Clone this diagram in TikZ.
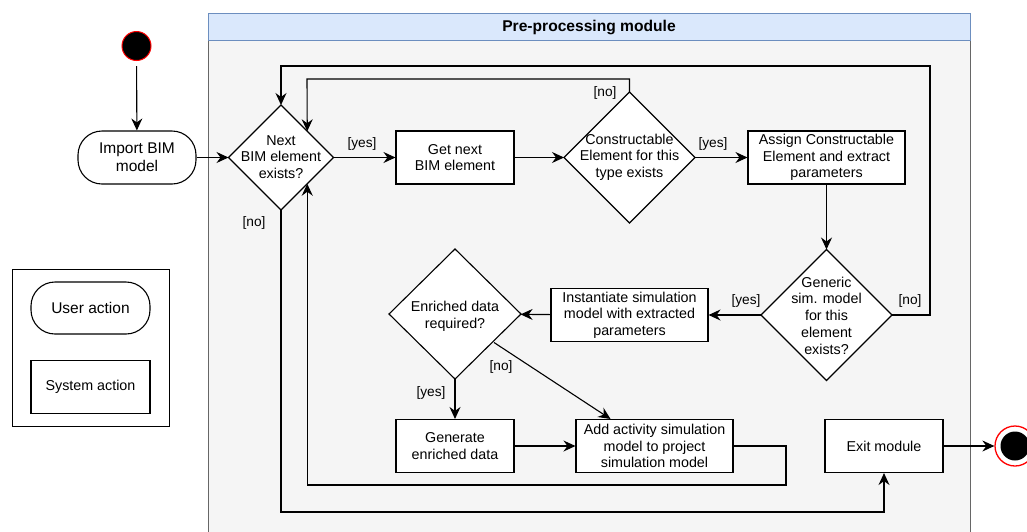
\documentclass[tikz,border=0pt]{standalone}
\usepackage{fontspec}
\setmainfont{Liberation Sans}
\usetikzlibrary{shapes.geometric,arrows.meta,calc}
\definecolor{poolfill}{HTML}{F5F5F5}
\definecolor{pooldraw}{HTML}{666666}
\definecolor{headfill}{HTML}{DAE8FC}
\definecolor{headdraw}{HTML}{6C8EBF}
\definecolor{startred}{HTML}{FF0000}
\begin{document}
\begin{tikzpicture}[x=1pt,y=-1pt,line width=1.1pt,
  >={Stealth[length=12pt,width=11pt,inset=4pt]},
  act/.style={draw,fill=white,minimum width=118pt,minimum height=53pt,inner sep=2pt,align=center,font=\fontsize{14.3}{16.7}\selectfont},
  bigact/.style={act,minimum width=157pt},
  useract/.style={act,rounded corners=24pt,font=\fontsize{15.5}{18}\selectfont},
  dec/.style={draw,fill=white,diamond,inner sep=0pt,outer sep=0pt},
  dectext/.style={align=center,inner sep=0pt,font=\fontsize{14.3}{16.7}\selectfont},
  lbl/.style={font=\fontsize{13.7}{16}\selectfont,inner sep=0pt},
  flow/.style={->}]
\useasboundingbox (0,0) rectangle (1027,531);
% pool
\fill[poolfill] (208,40) rectangle (970,545);
\draw[pooldraw,line width=1pt] (208,545) -- (208,40) -- (970,40) -- (970,545);
\draw[headdraw,fill=headfill,line width=1pt] (208,13) rectangle (970,40);
\node[font=\fontsize{15.6}{18}\selectfont\bfseries] (title) at (589,27) {Pre-processing module};
% legend
\draw[line width=1pt] (12,269) rectangle (169,426);
\node[useract,minimum width=119pt,minimum height=52pt] (leguser) at (90.5,308) {User action};
\node[act,minimum width=119pt,minimum height=53pt] (legsys) at (90.5,387) {System action};
% start / end
\node[circle,fill=black,draw=startred,line width=1pt,minimum size=29pt,inner sep=0pt] (start) at (136.5,46) {};
\node[circle,fill=white,draw=startred,line width=1.3pt,minimum size=40pt,inner sep=0pt] (end) at (1015,446) {};
\fill[black] (end.center) circle (14.5pt);
% nodes
\node[useract] (import) at (137,157.5) {Import BIM\\model};
\node[dec,minimum width=105pt,minimum height=105pt] (d1) at (281,157.5) {};
\node[dectext] (d1t) at (281,157) {Next\\BIM element\\exists?};
\node[act] (getnext) at (455,157.5) {Get next\\BIM element};
\node[dec,minimum width=131pt,minimum height=131pt] (d2) at (629.5,157.5) {};
\node[dectext] (d2t) at (629.5,157) {Constructable\\Element for this\\type exists};
\node[bigact] (assign) at (826.5,157.5) {Assign Constructable\\Element and extract\\parameters};
\node[dec,minimum width=131pt,minimum height=131pt] (d3) at (826.5,315) {};
\node[dectext] (d3t) at (826.5,315.5) {Generic\\sim. model\\for this\\element\\exists?};
\node[bigact] (inst) at (629.5,315) {Instantiate simulation\\model with extracted\\parameters};
\node[dec,minimum width=132pt,minimum height=130pt] (d4) at (455,314) {};
\node[dectext] (d4t) at (455,316) {Enriched data\\required?};
\node[act] (gen) at (455,446) {Generate\\enriched data};
\node[bigact] (add) at (654.5,446) {Add activity simulation\\model to project\\simulation model};
\node[act] (exit) at (884,446) {Exit module};
% helper coordinates
\coordinate (cOuter) at (930,66);
\coordinate (cInner) at (307,79);
\coordinate (cLoop) at (786,485);
\coordinate (cExit) at (281,512);
% connectors
\draw[flow,shorten <=5pt] (start) -- (import);
\draw[flow] (import) -- (d1);
\draw[flow] (d1) -- (getnext);
\draw[flow] (getnext) -- (d2);
\draw[flow] (d2) -- (assign);
\draw[flow] (assign) -- (d3);
\draw[flow] (d3) -- (inst);
\draw[flow] (inst) -- (d4);
\draw[flow] (d4) -- (gen);
\draw[flow] (gen) -- (add);
\draw[flow] ($(d4.south east)+(6,-4)$) -- ([xshift=-44pt]add.north);
\draw[flow] (d3.east) -| (cOuter) -| (d1.north);
\draw[flow] (d2.north) |- (cInner) -- (d1.north east);
\draw[flow] (add.east) -| (cLoop) -| (d1.south east);
\draw[flow] (d1.south) |- (cExit) -| (exit.south);
\draw[flow] (exit) -- (end);
% labels
\node[lbl] (l1) at (362,144) {[yes]};
\node[lbl] (l2) at (254,223) {[no]};
\node[lbl] (l3) at (605,93) {[no]};
\node[lbl] (l4) at (713,144) {[yes]};
\node[lbl] (l5) at (746,301) {[yes]};
\node[lbl] (l6) at (910,301) {[no]};
\node[lbl] (l7) at (431,393) {[yes]};
\node[lbl] (l8) at (501,367) {[no]};
\end{tikzpicture}
\end{document}
